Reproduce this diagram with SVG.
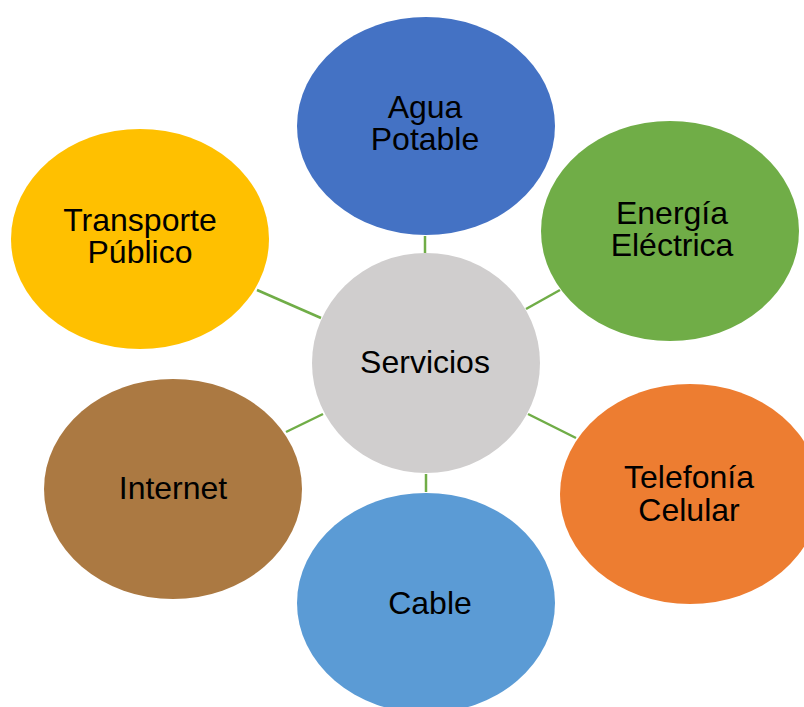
<svg xmlns="http://www.w3.org/2000/svg" width="804" height="707" viewBox="0 0 804 707">
<style>
text{font-family:"Liberation Sans",Arial,sans-serif;font-size:32px;fill:#000;text-anchor:middle}
.c{stroke:#70AD47;stroke-width:2.5;fill:none}
</style>
<rect width="804" height="707" fill="#fff"/>
<g id="connectors">
<line class="c" x1="425" y1="236" x2="425" y2="253"/>
<line class="c" x1="526" y1="309" x2="560" y2="290"/>
<line class="c" x1="528" y1="414" x2="576" y2="438"/>
<line class="c" x1="426" y1="474" x2="426" y2="492"/>
<line class="c" x1="286" y1="432" x2="323" y2="414"/>
<line class="c" x1="257" y1="290" x2="321" y2="318"/>
</g>
<g id="servicios">
<ellipse cx="426" cy="363" rx="114" ry="110" fill="#D0CECE"/>
<text x="425" y="373">Servicios</text>
</g>
<g id="agua">
<ellipse cx="426" cy="126" rx="129" ry="109" fill="#4472C4"/>
<text x="425" y="118">Agua</text>
<text x="425" y="150">Potable</text>
</g>
<g id="energia">
<ellipse cx="670" cy="231" rx="129" ry="110" fill="#70AD47"/>
<text x="672" y="224">Energía</text>
<text x="672" y="256">Eléctrica</text>
</g>
<g id="telefonia">
<ellipse cx="690" cy="494" rx="130" ry="110" fill="#ED7D31"/>
<text x="689" y="488">Telefonía</text>
<text x="689" y="521">Celular</text>
</g>
<g id="cable">
<ellipse cx="426" cy="603" rx="129" ry="110" fill="#5B9BD5"/>
<text x="430" y="614">Cable</text>
</g>
<g id="internet">
<ellipse cx="173" cy="489" rx="129" ry="110" fill="#AB7942"/>
<text x="173" y="499">Internet</text>
</g>
<g id="transporte">
<ellipse cx="140" cy="239" rx="129" ry="110" fill="#FFC000"/>
<text x="140" y="231">Transporte</text>
<text x="140" y="263">Público</text>
</g>
</svg>
